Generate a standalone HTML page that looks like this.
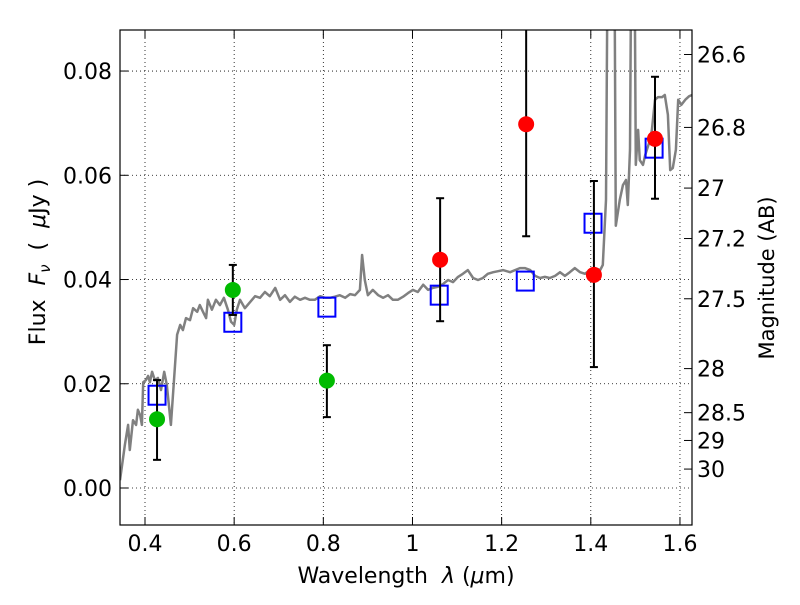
<!DOCTYPE html>
<html><head><meta charset="utf-8"><style>
body{margin:0;background:#fff}
text{font-family:"DejaVu Sans","Liberation Sans",sans-serif;fill:#000}
</style></head><body>
<svg id="chart" width="800" height="600" xmlns="http://www.w3.org/2000/svg">
<defs><clipPath id="clip"><rect x="120" y="30" width="572" height="495"/></clipPath></defs>
<rect width="800" height="600" fill="#fff"/>
<g id="grid"></g>
<g id="spec" clip-path="url(#clip)"></g>
<g id="marks" clip-path="url(#clip)"></g>
<rect x="120" y="30" width="572" height="495" fill="none" stroke="#000" stroke-width="1.2"/>
<g id="axes"></g>
<text x="406" y="583" font-size="22" text-anchor="middle">Wavelength&#160;&#160;<tspan font-style="italic">λ</tspan> (<tspan font-style="italic">μ</tspan>m)</text>
<text transform="translate(45,262) rotate(-90)" font-size="22" text-anchor="middle">Flux&#160;&#160;<tspan font-style="italic">F<tspan font-size="15" dy="5">ν</tspan></tspan><tspan dy="-5">&#160;&#160;(&#160;&#160;</tspan><tspan font-style="italic">μ</tspan>Jy )</text>
<text transform="translate(774,278) rotate(-90)" font-size="21" text-anchor="middle">Magnitude (AB)</text>
</svg>
<script>
const xTicks=[0.4,0.6,0.8,1.0,1.2,1.4,1.6];
const xTickLabels=["0.4","0.6","0.8","1","1.2","1.4","1.6"];
const yTicks=[0,0.02,0.04,0.06,0.08];
const yTickLabels=["0.00","0.02","0.04","0.06","0.08"];
const magTicks=[26.6,26.8,27,27.2,27.5,28,28.5,29,30];
const magTickLabels=["26.6","26.8","27","27.2","27.5","28","28.5","29","30"];
const specWave=[0.344,0.355,0.362,0.366,0.373,0.380,0.384,0.389,0.393,0.396,0.402,0.407,0.411,0.416,0.422,0.429,0.436,0.443,0.449,0.458,0.465,0.472,0.479,0.485,0.492,0.501,0.508,0.517,0.523,0.530,0.537,0.541,0.550,0.559,0.568,0.577,0.586,0.593,0.600,0.606,0.613,0.624,0.636,0.647,0.658,0.669,0.680,0.692,0.703,0.714,0.725,0.736,0.748,0.759,0.770,0.781,0.793,0.804,0.815,0.826,0.837,0.849,0.860,0.871,0.882,0.887,0.893,0.900,0.911,0.923,0.934,0.945,0.956,0.967,0.979,0.990,1.001,1.012,1.024,1.035,1.046,1.057,1.068,1.080,1.091,1.102,1.113,1.124,1.136,1.147,1.158,1.169,1.181,1.192,1.203,1.219,1.230,1.241,1.252,1.264,1.275,1.286,1.297,1.308,1.320,1.331,1.342,1.353,1.364,1.376,1.387,1.398,1.409,1.421,1.427,1.434,1.439,1.445,1.452,1.456,1.465,1.472,1.479,1.483,1.488,1.492,1.497,1.501,1.506,1.510,1.517,1.522,1.533,1.537,1.544,1.551,1.560,1.566,1.573,1.578,1.584,1.591,1.596,1.603,1.612,1.621,1.627];
const specFlux=[0.0015,0.0083,0.0121,0.0073,0.0130,0.0121,0.0150,0.0140,0.0121,0.0203,0.0207,0.0215,0.0203,0.0223,0.0207,0.0211,0.0188,0.0223,0.0198,0.0121,0.0207,0.0294,0.0313,0.0303,0.0326,0.0322,0.0345,0.0338,0.0351,0.0338,0.0326,0.0361,0.0342,0.0361,0.0351,0.0365,0.0342,0.0319,0.0313,0.0342,0.0361,0.0345,0.0357,0.0368,0.0365,0.0376,0.0368,0.0384,0.0361,0.0370,0.0357,0.0367,0.0361,0.0365,0.0361,0.0361,0.0368,0.0365,0.0365,0.0367,0.0370,0.0365,0.0372,0.0370,0.0380,0.0447,0.0399,0.0370,0.0380,0.0370,0.0365,0.0370,0.0361,0.0361,0.0367,0.0374,0.0380,0.0376,0.0390,0.0380,0.0384,0.0386,0.0391,0.0399,0.0395,0.0405,0.0411,0.0418,0.0403,0.0399,0.0403,0.0411,0.0414,0.0416,0.0418,0.0414,0.0418,0.0422,0.0422,0.0418,0.0407,0.0403,0.0405,0.0403,0.0407,0.0414,0.0407,0.0414,0.0422,0.0414,0.0411,0.0418,0.0422,0.0418,0.0428,0.0553,0.12,0.12,0.12,0.0503,0.0553,0.0581,0.0591,0.0543,0.0649,0.12,0.12,0.0620,0.0687,0.0629,0.0620,0.0639,0.0668,0.0687,0.0745,0.0750,0.0750,0.0754,0.0716,0.0610,0.0614,0.0649,0.0745,0.0735,0.0745,0.0752,0.0754];
const greenWave=[0.427,0.597,0.808];
const greenFlux=[0.0132,0.0380,0.0206];
const greenLo=[0.0054,0.0332,0.0136];
const greenHi=[0.0207,0.0428,0.0274];
const redWave=[1.062,1.255,1.407,1.544];
const redFlux=[0.0438,0.0698,0.0409,0.0670];
const redLo=[0.0320,0.0483,0.0232,0.0555];
const redHi=[0.0556,0.0950,0.0589,0.0789];
const sqWave=[0.427,0.597,0.808,1.060,1.253,1.405,1.542];
const sqFlux=[0.0178,0.0318,0.0347,0.0370,0.0397,0.0508,0.0652];

const X=v=>145+(v-0.4)*445.8;
const Y=v=>488-v*5212;
const NS="http://www.w3.org/2000/svg";
function mk(tag,attrs,parent){const e=document.createElementNS(NS,tag);for(const k in attrs)e.setAttribute(k,attrs[k]);parent.appendChild(e);return e;}
const grid=document.getElementById('grid'),axes=document.getElementById('axes'),spec=document.getElementById('spec'),marks=document.getElementById('marks');

xTicks.forEach((t,i)=>{const x=X(t);
 let g=mk('line',{x1:x,x2:x,y1:30,y2:525,stroke:'#000','stroke-width':0.8,'stroke-dasharray':'1,3'},grid);
 
 mk('line',{x1:x,x2:x,y1:525,y2:517,stroke:'#000'},axes);
 mk('line',{x1:x,x2:x,y1:30,y2:38,stroke:'#000'},axes);
 let tx=mk('text',{x:x,y:551,'font-size':22,'text-anchor':'middle'},axes);tx.textContent=xTickLabels[i];
 });
yTicks.forEach((t,i)=>{const y=Y(t);
 let g=mk('line',{x1:120,x2:692,y1:y,y2:y,stroke:'#000','stroke-width':0.8,'stroke-dasharray':'1,3'},grid);
 
 mk('line',{x1:120,x2:128,y1:y,y2:y,stroke:'#000'},axes);
 let tx=mk('text',{x:112,y:y+8,'font-size':22,'text-anchor':'end'},axes);tx.textContent=yTickLabels[i];
 });
magTicks.forEach((m,i)=>{const y=Y(Math.pow(10,(23.9-m)/2.5));
 mk('line',{x1:684,x2:692,y1:y,y2:y,stroke:'#000'},axes);
 let tx=mk('text',{x:697,y:y+8,'font-size':22},axes);tx.textContent=magTickLabels[i];
 });

let d=specWave.map((w,i)=>(i?'L':'M')+X(w).toFixed(1)+','+Y(specFlux[i]).toFixed(1)).join('');
let sp=mk('path',{d:d,fill:'none',stroke:'#808080','stroke-width':2.5,'stroke-linejoin':'round'},spec);


function errbar(w,lo,hi){const x=X(w);
 let g=mk('g',{},marks);
 
 mk('line',{x1:x,x2:x,y1:Y(lo),y2:Y(hi),stroke:'#000','stroke-width':2},g);
 mk('line',{x1:x-4,x2:x+4,y1:Y(lo),y2:Y(lo),stroke:'#000','stroke-width':2},g);
 mk('line',{x1:x-4,x2:x+4,y1:Y(hi),y2:Y(hi),stroke:'#000','stroke-width':2},g);}
sqWave.forEach((w,i)=>{let r=mk('rect',{x:X(w)-8.5,y:Y(sqFlux[i])-9.5,width:17,height:19,fill:'none',stroke:'#0000ff','stroke-width':2},marks);
 });
greenWave.forEach((w,i)=>{errbar(w,greenLo[i],greenHi[i]);
 let c=mk('circle',{cx:X(w),cy:Y(greenFlux[i]),r:8,fill:'#00bb00'},marks);
 });
redWave.forEach((w,i)=>{errbar(w,redLo[i],redHi[i]);
 let c=mk('circle',{cx:X(w),cy:Y(redFlux[i]),r:8,fill:'#ff0000'},marks);
 });
</script>
</body></html>
